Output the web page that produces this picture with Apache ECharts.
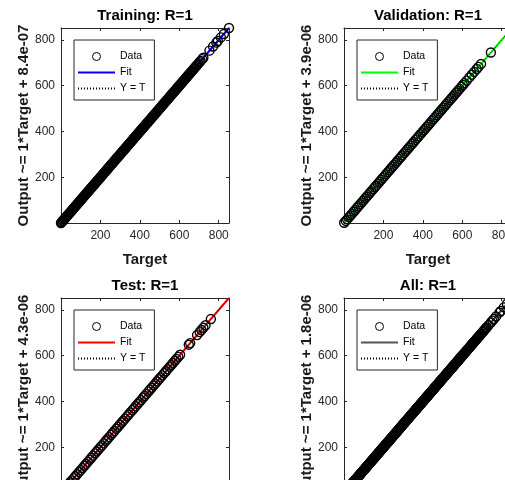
<!DOCTYPE html>
<html>
<head>
<meta charset="utf-8">
<script src="https://cdn.jsdelivr.net/npm/echarts/dist/echarts.min.js"></script>
<style>
  html, body { margin: 0; padding: 0; background: #fff; }
  #chart { width: 505px; height: 480px; }
</style>
</head>
<body>
<div id="chart"></div>
<script>
// Regression panels: network output against target for each data subset.
const panelTitles = ['Training: R=1', 'Validation: R=1', 'Test: R=1', 'All: R=1'];
const fitSlopes = [1, 1, 1, 1];
const fitIntercepts = [8.4e-07, 3.9e-06, 4.3e-06, 1.8e-06];
const interceptLabels = ['8.4e-07', '3.9e-06', '4.3e-06', '1.8e-06'];
const axisLimits = [0, 852];
const tickStep = 200;
const legendNames = ['Data', 'Fit', 'Y = T'];

// Targets of each subset (outputs coincide with targets, R = 1).
const trainingTargets = [
  0, 3, 7, 10, 14, 18, 21, 25, 28, 32, 36, 39, 43, 47, 50, 54, 57, 61, 65, 68,
  72, 76, 79, 83, 86, 90, 94, 97, 101, 105, 108, 112, 115, 119, 123, 126, 130, 134, 137, 141,
  144, 148, 152, 155, 159, 163, 166, 170, 173, 177, 181, 184, 188, 192, 195, 199, 202, 206, 210, 213,
  217, 221, 224, 228, 231, 235, 239, 242, 246, 250, 253, 257, 260, 264, 268, 271, 275, 279, 282, 286,
  289, 293, 297, 300, 304, 308, 311, 315, 318, 322, 326, 329, 333, 337, 340, 344, 347, 351, 355, 358,
  362, 366, 369, 373, 376, 380, 384, 387, 391, 395, 398, 402, 405, 409, 413, 416, 420, 424, 427, 431,
  434, 438, 442, 445, 449, 453, 456, 460, 463, 467, 471, 474, 478, 482, 485, 489, 492, 496, 500, 503,
  507, 511, 514, 518, 521, 525, 529, 532, 536, 540, 543, 547, 550, 554, 558, 561, 565, 569, 572, 576,
  579, 583, 587, 590, 594, 598, 601, 605, 608, 612, 616, 619, 623, 627, 630, 634, 637, 641, 645, 648,
  652, 656, 659, 663, 667, 672, 676, 681, 686, 690, 697, 703, 708, 716, 722, 753, 771, 788, 795, 811,
  826, 852
];
const validationTargets = [
  1, 9, 16, 25, 33, 40, 49, 57, 66, 73, 82, 90, 98, 107, 115, 122, 131, 139, 148, 156,
  163, 172, 180, 189, 197, 205, 213, 222, 230, 238, 247, 255, 263, 271, 280, 288, 296, 305, 313, 321,
  330, 338, 346, 354, 363, 371, 379, 388, 396, 404, 413, 421, 429, 437, 446, 454, 462, 471, 479, 487,
  496, 504, 512, 520, 529, 537, 545, 554, 562, 570, 578, 586, 595, 603, 611, 622, 636, 648, 660, 673,
  682, 695, 745
];
const testTargets = [
  2, 11, 20, 28, 38, 47, 55, 65, 73, 82, 92, 100, 109, 119, 127, 136, 146, 154, 163, 173,
  181, 190, 200, 208, 217, 227, 235, 244, 254, 262, 271, 281, 289, 298, 308, 316, 325, 335, 343, 352,
  362, 370, 379, 389, 397, 406, 416, 424, 433, 443, 451, 460, 470, 478, 487, 497, 505, 514, 524, 532,
  541, 551, 559, 568, 578, 586, 595, 604, 648, 655, 690, 703, 712, 722, 733, 760
];
const allTargets = trainingTargets.concat(validationTargets, testTargets);
const subsetTargets = [trainingTargets, validationTargets, testTargets, allTargets];

// Styling and layout
const fitColors = ['#0000ff', '#00ff00', '#ff0000', '#555555'];
const panelOrigins = [[61, 28], [344, 28], [61, 298], [344, 298]];
const panelW = 168, panelH = 195;
const FONT = '"Liberation Sans", Arial, Helvetica, sans-serif';
const AX = '#262626';
const NONE = 'rgba(0,0,0,0)';

const grid = [], xAxis = [], yAxis = [], series = [], legend = [];

panelTitles.forEach((title, i) => {
  const [gl, gt] = panelOrigins[i];
  const key = 'p' + i + '|';
  grid.push({ left: gl, top: gt, width: panelW, height: panelH, outerBoundsMode: 'none', containLabel: false, show: false });

  const common = {
    type: 'value', min: axisLimits[0], max: axisLimits[1], interval: tickStep,
    gridIndex: i, splitLine: { show: false },
    axisLine: { show: true, onZero: false, lineStyle: { color: AX, width: 1 } },
    axisTick: { show: true, inside: true, length: 3, lineStyle: { color: AX, width: 1 } }
  };
  const label = {
    show: true, color: AX, fontSize: 12, fontFamily: FONT,
    showMinLabel: false, showMaxLabel: false
  };

  xAxis.push(Object.assign({}, common, {
    position: 'bottom',
    axisLabel: Object.assign({}, label, { margin: 7 }),
    name: 'Target', nameLocation: 'middle', nameGap: 29,
    nameTextStyle: { fontSize: 15, fontWeight: 'bold', color: '#1a1a1a', fontFamily: FONT }
  }));
  xAxis.push(Object.assign({}, common, {
    position: 'top', axisLabel: { show: false },
    name: title, nameLocation: 'middle', nameGap: 5,
    nameTextStyle: { fontSize: 15, fontWeight: 'bold', color: '#000', fontFamily: FONT, verticalAlign: 'bottom' }
  }));
  yAxis.push(Object.assign({}, common, {
    position: 'left',
    axisLabel: Object.assign({}, label, { margin: 6 }),
    name: 'Output ~= ' + fitSlopes[i] + '*Target + ' + interceptLabels[i],
    nameLocation: 'middle', nameGap: 28, nameRotate: 90,
    nameTextStyle: { fontSize: 15, fontWeight: 'bold', color: '#1a1a1a', fontFamily: FONT }
  }));
  yAxis.push(Object.assign({}, common, { position: 'right', axisLabel: { show: false } }));

  const lo = axisLimits[0], hi = axisLimits[1];
  const m = fitSlopes[i], b = fitIntercepts[i];

  series.push({
    name: key + 'Fit', type: 'line', xAxisIndex: 2 * i, yAxisIndex: 2 * i,
    data: [[lo, m * lo + b], [hi, m * hi + b]],
    symbol: 'none', z: 2, silent: true,
    lineStyle: { color: fitColors[i], width: 2 },
    itemStyle: { color: NONE, borderColor: NONE, borderWidth: 0 }
  });
  series.push({
    name: key + 'Y = T', type: 'line', xAxisIndex: 2 * i, yAxisIndex: 2 * i,
    data: [[lo, lo], [hi, hi]],
    symbol: 'none', z: 3, silent: true,
    lineStyle: { color: '#000', width: 1, type: [1, 2] },
    itemStyle: { color: NONE, borderColor: NONE, borderWidth: 0 }
  });
  series.push({
    name: key + 'Data', type: 'scatter', xAxisIndex: 2 * i, yAxisIndex: 2 * i,
    data: subsetTargets[i].map(t => [t, t]),
    symbol: 'circle', symbolSize: 9, z: 4, silent: true,
    itemStyle: { color: NONE, borderColor: '#000', borderWidth: 1.4, opacity: 1 }
  });

  legend.push({
    data: legendNames.map(n => key + n),
    formatter: name => name.split('|')[1],
    orient: 'vertical', left: gl + 13, top: gt + 12,
    padding: [11, 9, 6, 3], itemGap: 5,
    itemWidth: 37, itemHeight: 8,
    backgroundColor: '#fff', borderColor: AX, borderWidth: 1, borderRadius: 0,
    selectedMode: false,
    textStyle: { fontSize: 10.5, color: '#000', fontFamily: FONT, padding: 0 },
    itemStyle: { borderWidth: 1, borderColor: 'inherit' }
  });
});

const chart = echarts.init(document.getElementById('chart'), null, { renderer: 'canvas' });
chart.setOption({
  backgroundColor: '#fff',
  animation: false,
  grid, xAxis, yAxis, series, legend
});
</script>
</body>
</html>
